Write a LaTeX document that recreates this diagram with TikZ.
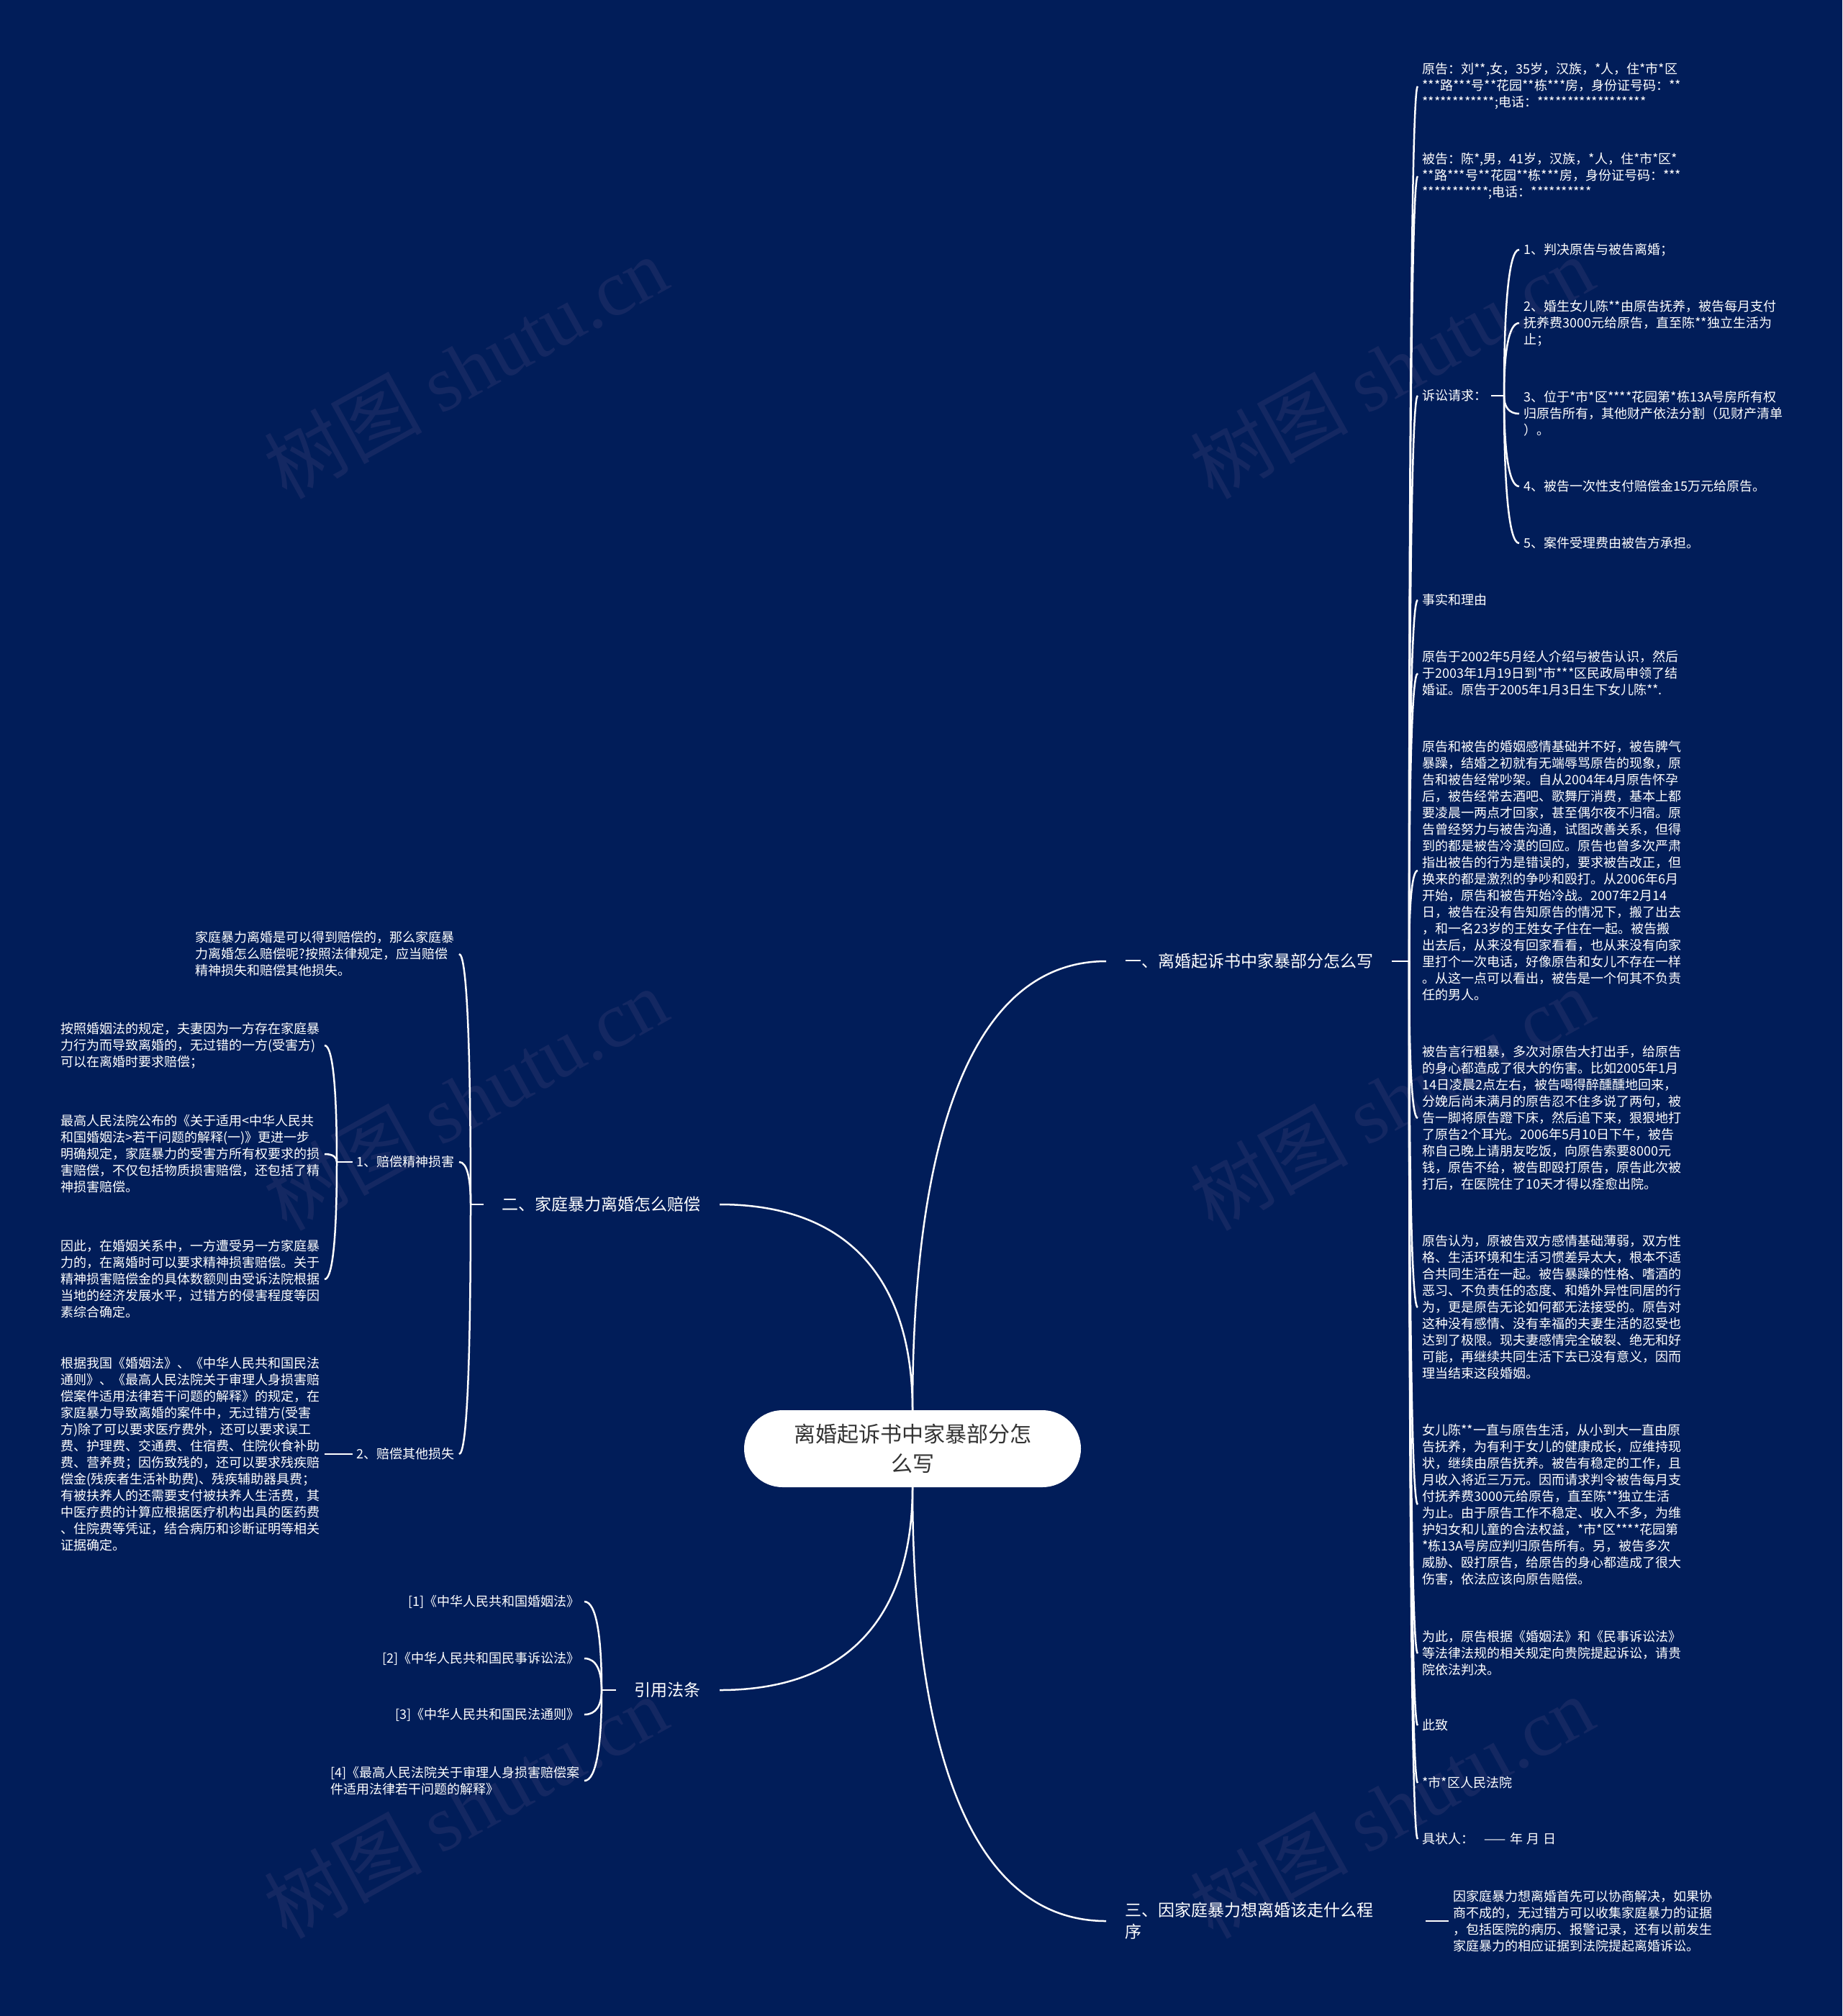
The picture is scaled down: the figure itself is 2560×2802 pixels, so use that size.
\documentclass[tikz,border=0pt]{standalone}
\usepackage{fontspec}
\setmainfont{Noto Sans CJK SC}
\newfontfamily\wmlatin{Liberation Serif}
\usetikzlibrary{calc}
\definecolor{bgc}{RGB}{1,29,89}
\definecolor{wmc}{RGB}{20,40,98}
\definecolor{ctext}{RGB}{51,51,51}
\tikzset{
  leaf/.style={inner xsep=6pt, inner ysep=0pt, align=left, text=white, font=\fontsize{18}{23}\selectfont},
  branch/.style={inner xsep=26pt, inner ysep=4pt, align=left, text=white, font=\fontsize{23}{30}\selectfont},
  conn/.style={draw=white, line width=2.5pt},
  wm/.style={text=wmc, rotate=29, inner sep=0pt, font=\fontsize{110}{110}\selectfont},
  rootnode/.style={fill=white, rounded corners=53.5pt, minimum width=468pt, minimum height=107pt, align=center, text=ctext, inner sep=0pt, font=\fontsize{30}{41}\selectfont}
}
\newcommand\mmlink[2]{%
  \coordinate (mmtmp) at (#1 |- #2);
  \draw[conn] (#1) .. controls ($(#1)!0.6!(mmtmp)$) and ($(mmtmp)!0.3!(#2)$) .. (#2);}
\begin{document}
\begin{tikzpicture}[x=1pt,y=-1pt]
\useasboundingbox (0,0) rectangle (2560,2802);
\fill[bgc] (0,0) rectangle (2560,2802);
% watermarks
\foreach \wx/\wy [count=\i] in {647/510,1934/510,647/1527,1934/1527,647/2511,1934/2511}
  \node[wm] (wm\i) at (\wx,\wy) {树图 {\wmlatin shutu.cn}};

% root
\node[rootnode] (c) at (1268,2013.5) {离婚起诉书中家暴部分怎\\么写};

% ---------- branch 1 ----------
\node[branch, anchor=west] (b1) at (1537,1336) {一、离婚起诉书中家暴部分怎么写};
\coordinate (k1) at (1958,1336);
\node[leaf, anchor=west] (r1) at (1970,120) {原告：刘**,女，35岁，汉族，*人，住*市*区\\{}***路***号**花园**栋***房，身份证号码：**\\{}************;电话：******************};
\node[leaf, anchor=west] (r2) at (1970,245) {被告：陈*,男，41岁，汉族，*人，住*市*区*\\{}**路***号**花园**栋***房，身份证号码：***\\{}***********;电话：**********};
\node[leaf, anchor=west] (r3) at (1970,550) {诉讼请求：};
\coordinate (k3) at (2090,550);
\node[leaf, anchor=west] (s1) at (2111,347) {1、判决原告与被告离婚；};
\node[leaf, anchor=west] (s2) at (2111,449) {2、婚生女儿陈**由原告抚养，被告每月支付\\抚养费3000元给原告，直至陈**独立生活为\\止；};
\node[leaf, anchor=west] (s3) at (2111,575) {3、位于*市*区****花园第*栋13A号房所有权\\归原告所有，其他财产依法分割（见财产清单\\）。};
\node[leaf, anchor=west] (s4) at (2111,676) {4、被告一次性支付赔偿金15万元给原告。};
\node[leaf, anchor=west] (s5) at (2111,755) {5、案件受理费由被告方承担。};
\node[leaf, anchor=west] (r4) at (1970,834) {事实和理由};
\node[leaf, anchor=west] (r5) at (1970,936) {原告于2002年5月经人介绍与被告认识，然后\\于2003年1月19日到*市***区民政局申领了结\\婚证。原告于2005年1月3日生下女儿陈**.};
\node[leaf, anchor=west] (r6) at (1970,1210) {原告和被告的婚姻感情基础并不好，被告脾气\\暴躁，结婚之初就有无端辱骂原告的现象，原\\告和被告经常吵架。自从2004年4月原告怀孕\\后，被告经常去酒吧、歌舞厅消费，基本上都\\要凌晨一两点才回家，甚至偶尔夜不归宿。原\\告曾经努力与被告沟通，试图改善关系，但得\\到的都是被告冷漠的回应。原告也曾多次严肃\\指出被告的行为是错误的，要求被告改正，但\\换来的都是激烈的争吵和殴打。从2006年6月\\开始，原告和被告开始冷战。2007年2月14\\日，被告在没有告知原告的情况下，搬了出去\\，和一名23岁的王姓女子住在一起。被告搬\\出去后，从来没有回家看看，也从来没有向家\\里打个一次电话，好像原告和女儿不存在一样\\。从这一点可以看出，被告是一个何其不负责\\任的男人。};
\node[leaf, anchor=west] (r7) at (1970,1554) {被告言行粗暴，多次对原告大打出手，给原告\\的身心都造成了很大的伤害。比如2005年1月\\14日凌晨2点左右，被告喝得醉醺醺地回来，\\分娩后尚未满月的原告忍不住多说了两句，被\\告一脚将原告蹬下床，然后追下来，狠狠地打\\了原告2个耳光。2006年5月10日下午，被告\\称自己晚上请朋友吃饭，向原告索要8000元\\钱，原告不给，被告即殴打原告，原告此次被\\打后，在医院住了10天才得以痊愈出院。};
\node[leaf, anchor=west] (r8) at (1970,1817) {原告认为，原被告双方感情基础薄弱，双方性\\格、生活环境和生活习惯差异太大，根本不适\\合共同生活在一起。被告暴躁的性格、嗜酒的\\恶习、不负责任的态度、和婚外异性同居的行\\为，更是原告无论如何都无法接受的。原告对\\这种没有感情、没有幸福的夫妻生活的忍受也\\达到了极限。现夫妻感情完全破裂、绝无和好\\可能，再继续共同生活下去已没有意义，因而\\理当结束这段婚姻。};
\node[leaf, anchor=west] (r9) at (1970,2091) {女儿陈**一直与原告生活，从小到大一直由原\\告抚养，为有利于女儿的健康成长，应维持现\\状，继续由原告抚养。被告有稳定的工作，且\\月收入将近三万元。因而请求判令被告每月支\\付抚养费3000元给原告，直至陈**独立生活\\为止。由于原告工作不稳定、收入不多，为维\\护妇女和儿童的合法权益，*市*区****花园第\\{}*栋13A号房应判归原告所有。另，被告多次\\威胁、殴打原告，给原告的身心都造成了很大\\伤害，依法应该向原告赔偿。};
\node[leaf, anchor=west] (r10) at (1970,2298) {为此，原告根据《婚姻法》和《民事诉讼法》\\等法律法规的相关规定向贵院提起诉讼，请贵\\院依法判决。};
\node[leaf, anchor=west] (r11) at (1970,2398) {此致};
\node[leaf, anchor=west] (r12) at (1970,2478) {*市*区人民法院};
\node[leaf, anchor=west] (r13) at (1970,2556) {具状人：\hspace{14pt}——\hspace{6pt}年\hspace{5pt}月\hspace{5pt}日};

\mmlink{c.north}{b1.west}
\draw[conn] (b1.east) -- (k1);
\foreach \n in {r1,r2,r3,r4,r5,r6,r7,r8,r9,r10,r11,r12,r13} {\mmlink{k1}{\n.west}}
\draw[conn] (r3.east) -- (k3);
\foreach \n in {s1,s2,s3,s4,s5} {\mmlink{k3}{\n.west}}

% ---------- branch 2 ----------
\node[branch, anchor=east] (b2) at (1000,1674) {二、家庭暴力离婚怎么赔偿};
\coordinate (k2) at (654,1674);
\node[leaf, anchor=east] (l1) at (638,1326) {家庭暴力离婚是可以得到赔偿的，那么家庭暴\\力离婚怎么赔偿呢?按照法律规定，应当赔偿\\精神损失和赔偿其他损失。};
\node[leaf, anchor=east] (l2) at (638,1615) {1、赔偿精神损害};
\coordinate (k21) at (468,1615);
\node[leaf, anchor=east] (l21) at (451,1453) {按照婚姻法的规定，夫妻因为一方存在家庭暴\\力行为而导致离婚的，无过错的一方(受害方)\\可以在离婚时要求赔偿；};
\node[leaf, anchor=east] (l22) at (451,1604) {最高人民法院公布的《关于适用<中华人民共\\和国婚姻法>若干问题的解释(一)》更进一步\\明确规定，家庭暴力的受害方所有权要求的损\\害赔偿，不仅包括物质损害赔偿，还包括了精\\神损害赔偿。};
\node[leaf, anchor=east] (l23) at (451,1778) {因此，在婚姻关系中，一方遭受另一方家庭暴\\力的，在离婚时可以要求精神损害赔偿。关于\\精神损害赔偿金的具体数额则由受诉法院根据\\当地的经济发展水平，过错方的侵害程度等因\\素综合确定。};
\node[leaf, anchor=east] (l3) at (638,2021) {2、赔偿其他损失};
\node[leaf, anchor=east] (l31) at (451,2021) {根据我国《婚姻法》、《中华人民共和国民法\\通则》、《最高人民法院关于审理人身损害赔\\偿案件适用法律若干问题的解释》的规定，在\\家庭暴力导致离婚的案件中，无过错方(受害\\方)除了可以要求医疗费外，还可以要求误工\\费、护理费、交通费、住宿费、住院伙食补助\\费、营养费；因伤致残的，还可以要求残疾赔\\偿金(残疾者生活补助费)、残疾辅助器具费；\\有被扶养人的还需要支付被扶养人生活费，其\\中医疗费的计算应根据医疗机构出具的医药费\\、住院费等凭证，结合病历和诊断证明等相关\\证据确定。};

\mmlink{c.north}{b2.east}
\draw[conn] (b2.west) -- (k2);
\foreach \n in {l1,l2,l3} {\mmlink{k2}{\n.east}}
\draw[conn] (l2.west) -- (k21);
\foreach \n in {l21,l22,l23} {\mmlink{k21}{\n.east}}
\draw[conn] (l3.west) -- (l31.east);

% ---------- branch 3 ----------
\node[branch, anchor=east] (b3) at (1000,2349) {引用法条};
\coordinate (k4) at (836,2349);
\node[leaf, anchor=east] (q1) at (812,2226) {[1]《中华人民共和国婚姻法》};
\node[leaf, anchor=east] (q2) at (812,2305) {[2]《中华人民共和国民事诉讼法》};
\node[leaf, anchor=east] (q3) at (812,2383) {[3]《中华人民共和国民法通则》};
\node[leaf, anchor=east] (q4) at (812,2475) {[4]《最高人民法院关于审理人身损害赔偿案\\件适用法律若干问题的解释》};
\mmlink{c.south}{b3.east}
\draw[conn] (b3.west) -- (k4);
\foreach \n in {q1,q2,q3,q4} {\mmlink{k4}{\n.east}}

% ---------- branch 4 ----------
\node[branch, anchor=west, text width=392pt] (b4) at (1537,2670) {三、因家庭暴力想离婚该走什么程\\序};
\node[leaf, anchor=west] (n41) at (2013,2670) {因家庭暴力想离婚首先可以协商解决，如果协\\商不成的，无过错方可以收集家庭暴力的证据\\，包括医院的病历、报警记录，还有以前发生\\家庭暴力的相应证据到法院提起离婚诉讼。};
\mmlink{c.south}{b4.west}
\draw[conn] (b4.east) -- (n41.west);
\end{tikzpicture}
\end{document}
